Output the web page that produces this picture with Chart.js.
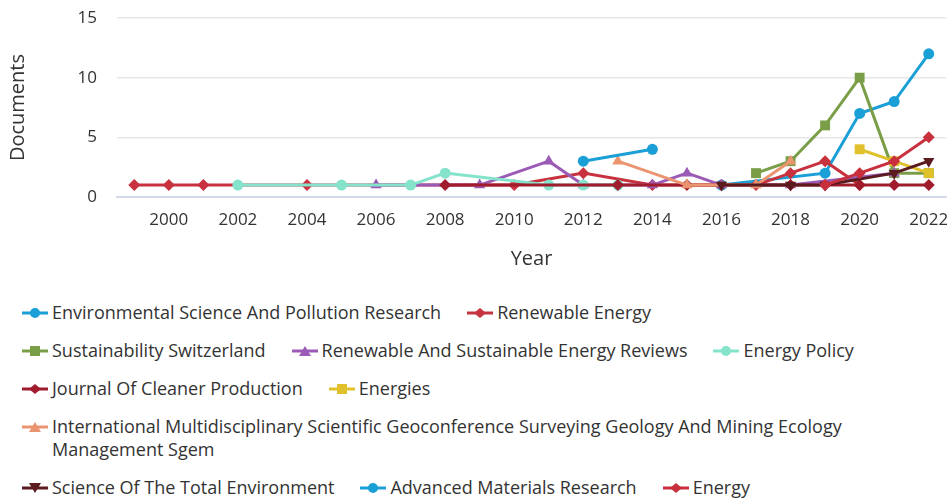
<!DOCTYPE html>
<html>
<head>
<meta charset="utf-8">
<script src="https://cdn.jsdelivr.net/npm/chart.js@4"></script>
<style>
  html, body { margin: 0; background: #fff; font-family: "Open Sans", sans-serif; overflow: hidden; }
  #wrap { position: absolute; left: 0; top: 0; width: 947px; height: 291px; }
  #legend { position: absolute; left: 22px; top: 301px; color: #333; font-size: 18px; }
  .row { display: flex; align-items: flex-start; margin-bottom: 15px; }
  .item { display: flex; align-items: flex-start; margin-right: 26px; }
  .item svg { flex: none; margin-top: 4px; margin-right: 4px; }
  .item span { line-height: 23px; max-width: 815px; }
</style>
</head>
<body>
<div id="wrap"><canvas id="chart"></canvas></div>
<div id="legend"></div>
<script>
const _ = null;
const years = [1999, 2000, 2001, 2002, 2003, 2004, 2005, 2006, 2007, 2008, 2009, 2010,
               2011, 2012, 2013, 2014, 2015, 2016, 2017, 2018, 2019, 2020, 2021, 2022];

const envSciPollution = [_,_,_,_,_,_,_,_,_,_,_,_,_,_,_,_,_,1,_,_,2,7,8,12];
const renewableEnergy = [1,1,1,_,_,1,_,_,_,_,_,1,_,2,_,1,_,1,1,2,3,1,_,_];
const sustainability  = [_,_,_,_,_,_,_,_,_,_,_,_,_,_,_,_,_,_,2,3,6,10,2,2];
const renewableReviews = [_,_,_,_,_,_,_,1,_,_,1,_,3,1,_,1,2,1,_,1,_,_,2,_];
const energyPolicy    = [_,_,_,1,_,_,1,_,1,2,_,_,1,1,1,_,_,_,_,_,_,_,_,_];
const cleanerProd     = [_,_,_,_,_,_,_,_,_,1,_,_,_,_,1,_,1,_,_,1,1,1,1,1];
const energies        = [_,_,_,_,_,_,_,_,_,_,_,_,_,_,_,_,_,_,_,_,_,4,3,2];
const sgem            = [_,_,_,_,_,_,_,_,_,_,_,_,_,_,3,_,1,_,1,3,_,_,_,_];
const totalEnv        = [_,_,_,_,_,_,_,_,_,_,_,_,_,_,_,_,_,1,_,1,1,_,2,3];
const advMaterials    = [_,_,_,_,_,_,_,_,_,_,_,_,_,3,_,4,_,_,_,_,_,_,_,_];
const energy          = [_,_,_,_,_,_,_,_,_,_,_,_,_,_,_,_,_,_,_,_,1,2,3,5];

const series = [
  { name: 'Environmental Science And Pollution Research', data: envSciPollution, color: '#1a9fd6', style: 'circle' },
  { name: 'Renewable Energy', data: renewableEnergy, color: '#c8323f', style: 'rectRot' },
  { name: 'Sustainability Switzerland', data: sustainability, color: '#7a9e47', style: 'rect' },
  { name: 'Renewable And Sustainable Energy Reviews', data: renewableReviews, color: '#9a5ab5', style: 'triangle' },
  { name: 'Energy Policy', data: energyPolicy, color: '#85e3cb', style: 'circle' },
  { name: 'Journal Of Cleaner Production', data: cleanerProd, color: '#a01c2c', style: 'rectRot' },
  { name: 'Energies', data: energies, color: '#e0c12c', style: 'rect' },
  { name: 'International Multidisciplinary Scientific Geoconference Surveying Geology And Mining Ecology Management Sgem', data: sgem, color: '#eb9470', style: 'triangle' },
  { name: 'Science Of The Total Environment', data: totalEnv, color: '#5a1a1e', style: 'triangleDown' },
  { name: 'Advanced Materials Research', data: advMaterials, color: '#1a9fd6', style: 'circle' },
  { name: 'Energy', data: energy, color: '#c9303e', style: 'rectRot' }
];

const legendRows = [[0, 1], [2, 3, 4], [5, 6], [7], [8, 9, 10]];

const radii = { circle: 5.5, rectRot: 6, rect: 7, triangle: 6.5, triangleDown: 6.5 };

const font = '"Open Sans", sans-serif';

new Chart(document.getElementById('chart'), {
  type: 'line',
  data: {
    labels: years,
    datasets: series.map((s, i) => ({
      label: s.name,
      data: s.data,
      borderColor: s.color,
      backgroundColor: s.color,
      pointBackgroundColor: s.color,
      pointBorderColor: s.color,
      pointBorderWidth: 0,
      borderWidth: 3,
      pointStyle: s.style === 'triangleDown' ? 'triangle' : s.style,
      pointRotation: s.style === 'triangleDown' ? 180 : 0,
      pointRadius: radii[s.style],
      spanGaps: true,
      tension: 0,
      clip: false,
      order: series.length - i
    }))
  },
  options: {
    responsive: true,
    maintainAspectRatio: false,
    animation: false,
    layout: { autoPadding: false, padding: { top: 18, right: 1, left: 0, bottom: 0 } },
    plugins: { legend: { display: false }, tooltip: { enabled: false } },
    scales: {
      x: {
        offset: true,
        grid: { display: false, drawTicks: false },
        border: { display: true, color: '#d3dae8', width: 2 },
        ticks: {
          autoSkip: false, maxRotation: 0, padding: 13,
          color: '#333', font: { family: font, size: 17 },
          callback: function(v, i) { return years[i] % 2 === 0 ? String(years[i]) : ''; }
        },
        title: { display: true, text: 'Year', color: '#333', font: { family: font, size: 20 }, padding: { top: 4, bottom: 20 } },
        afterFit: function(scale) { scale.height = 94; scale.paddingLeft = 0; scale.paddingRight = 0; }
      },
      y: {
        min: 0, max: 15,
        grid: { color: '#e6e6e6', lineWidth: 1.5, drawTicks: false },
        border: { display: false },
        ticks: { stepSize: 5, padding: 20, color: '#333', font: { family: font, size: 17 } },
        title: { display: true, text: 'Documents', color: '#333', font: { family: font, size: 20 }, padding: { top: 6, bottom: 4 } },
        afterFit: function(scale) { scale.width = 117; scale.paddingTop = 0; scale.paddingBottom = 0; }
      }
    }
  }
});

// legend, built from the same series list
function markerSvg(s) {
  const cx = 13, cy = 8, c = s.color;
  let m = '';
  if (s.style === 'circle') m = `<circle cx="${cx}" cy="${cy}" r="5" fill="${c}"/>`;
  else if (s.style === 'rectRot') m = `<polygon points="${cx-6},${cy} ${cx},${cy-5} ${cx+6},${cy} ${cx},${cy+5}" fill="${c}"/>`;
  else if (s.style === 'rect') m = `<rect x="${cx-5}" y="${cy-5}" width="10" height="10" fill="${c}"/>`;
  else if (s.style === 'triangle') m = `<polygon points="${cx-6},${cy+5} ${cx},${cy-5} ${cx+6},${cy+5}" fill="${c}"/>`;
  else m = `<polygon points="${cx-6},${cy-5} ${cx},${cy+5} ${cx+6},${cy-5}" fill="${c}"/>`;
  return `<svg width="26" height="16"><line x1="0" y1="${cy}" x2="26" y2="${cy}" stroke="${c}" stroke-width="3"/>${m}</svg>`;
}

const legend = document.getElementById('legend');
legendRows.forEach(row => {
  const div = document.createElement('div');
  div.className = 'row';
  row.forEach(i => {
    const it = document.createElement('div');
    it.className = 'item';
    it.innerHTML = markerSvg(series[i]) + '<span>' + series[i].name + '</span>';
    div.appendChild(it);
  });
  legend.appendChild(div);
});
</script>
</body>
</html>
